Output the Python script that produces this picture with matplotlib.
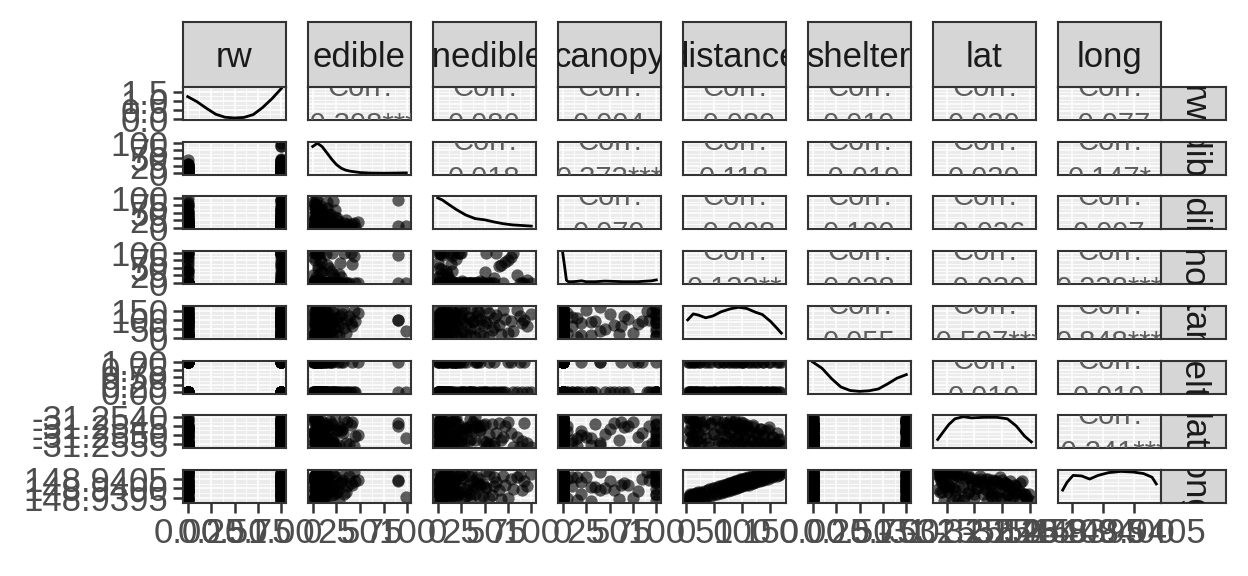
import matplotlib.pyplot as plt

plt.rcParams['font.family'] = ['Liberation Sans', 'DejaVu Sans']

var_names = ["rw", "edible", "inedible", "canopy", "distance", "shelter", "lat", "long"]

# observations (one entry per site)
rw = [1, 0, 1, 1, 0, 1, 0, 1, 1, 0, 1, 0, 1, 0, 1, 1, 0, 1, 0, 1,
      0, 1, 1, 0, 1, 0, 1, 0, 1, 1, 0, 1, 0, 1, 0, 1, 1, 0, 1, 1,
      0, 1, 0, 1, 0, 1, 1, 0, 1, 0, 1, 0, 1, 0, 1, 0, 1, 0, 1, 0,
      0, 1, 1, 0, 1, 0, 1, 1, 0, 1, 0, 1, 0, 1, 1, 0, 1, 0, 1, 1,
      0, 1, 1, 0, 1, 0, 1, 1, 0, 1, 1, 0, 1, 0, 1, 1, 0, 1, 0, 1,
      1, 0, 1, 0, 1, 0, 1, 1, 0, 1]
edible = [5, 2, 12, 0, 8, 20, 3, 6, 28, 10, 4, 15, 7, 1, 35, 9, 18, 99, 4, 13,
          6, 24, 2, 11, 42, 5, 16, 8, 3, 22, 30, 7, 1, 14, 45, 10, 90, 4, 90, 19,
          9, 6, 26, 3, 12, 38, 8, 2, 17, 5, 48, 14, 7, 21, 0, 11, 32, 6, 3, 9,
          3, 6, 11, 0, 4, 9, 25, 2, 14, 7, 19, 5, 1, 33, 8, 12, 3, 27, 10, 6,
          16, 2, 40, 4, 9, 22, 13, 5, 0, 36, 8, 18, 3, 7, 24, 11, 2, 29, 15, 6,
          4, 31, 10, 1, 20, 9, 44, 3, 13, 5]
inedible = [3, 15, 0, 40, 8, 22, 55, 2, 10, 30, 0, 68, 12, 5, 25, 45, 1, 6, 80, 18,
            4, 35, 60, 9, 14, 0, 48, 20, 7, 90, 11, 38, 3, 27, 2, 50, 6, 16, 92, 5,
            72, 0, 33, 13, 42, 8, 62, 24, 1, 100, 19, 4, 44, 10, 85, 28, 6, 52, 36, 15,
            20, 2, 48, 6, 0, 35, 12, 75, 4, 28, 9, 58, 1, 16, 40, 7, 95, 22, 3, 65,
            11, 30, 0, 52, 18, 5, 38, 8, 78, 14, 2, 45, 25, 10, 60, 6, 33, 0, 88, 19,
            12, 3, 55, 26, 7, 42, 15, 70, 1, 24]
canopy = [0, 0, 15, 0, 0, 100, 0, 0, 30, 0, 0, 60, 0, 0, 0, 5, 0, 0, 100, 0,
          45, 0, 0, 0, 62, 0, 0, 80, 0, 0, 20, 0, 100, 0, 0, 35, 92, 0, 0, 0,
          70, 0, 0, 10, 0, 0, 100, 0, 50, 0, 0, 95, 0, 0, 25, 0, 0, 100, 0, 40,
          0, 100, 0, 0, 20, 0, 0, 75, 0, 0, 40, 0, 0, 100, 0, 0, 10, 0, 0, 55,
          0, 0, 100, 0, 0, 30, 0, 0, 85, 0, 0, 0, 100, 0, 15, 0, 0, 65, 0, 0,
          100, 0, 0, 5, 0, 0, 90, 0, 0, 100]
distance = [2.4, 4, 5, 6, 8, 9, 11, 12, 14, 15, 17, 19, 21, 23, 26, 29, 33, 36, 40, 45,
            50, 54, 58, 62, 65, 68, 72, 75, 78, 80, 83, 86, 88, 91, 93, 95, 98, 100, 101, 104,
            107, 110, 113, 116, 119, 122, 125, 128, 131, 135, 138, 142, 146, 150, 154, 158, 162, 165, 168, 170,
            3, 7, 10, 13, 16, 18, 20, 24, 27, 31, 38, 43, 48, 52, 56, 60, 64, 67, 70, 73,
            76, 79, 82, 85, 87, 89, 92, 94, 96, 97, 99, 102, 105, 108, 111, 114, 117, 120, 124, 127,
            130, 133, 137, 140, 144, 148, 152, 156, 160, 166]
shelter = [0, 1, 0, 0, 1, 0, 0, 1, 0, 0, 1, 0, 0, 1, 0, 0, 1, 0, 0, 1,
           0, 0, 1, 0, 1, 0, 0, 1, 0, 0, 1, 0, 0, 1, 0, 0, 0, 1, 1, 0,
           0, 1, 0, 0, 1, 0, 0, 1, 0, 0, 1, 0, 0, 1, 0, 0, 1, 0, 0, 1,
           1, 0, 0, 1, 0, 0, 0, 1, 0, 0, 1, 0, 0, 0, 1, 0, 0, 1, 0, 0,
           0, 1, 0, 0, 1, 0, 0, 0, 1, 0, 0, 1, 0, 0, 0, 1, 0, 0, 1, 0,
           0, 0, 1, 0, 0, 1, 0, 0, 0, 1]
lat = [-31.25398, -31.25470, -31.25520, -31.25402, -31.25540, -31.25440, -31.25500, -31.25415, -31.25555, -31.25462,
       -31.25425, -31.25530, -31.25485, -31.25408, -31.25548, -31.25452, -31.25420, -31.25518, -31.25565, -31.25432,
       -31.25495, -31.25412, -31.25545, -31.25468, -31.25428, -31.25558, -31.25442, -31.25510, -31.25418, -31.25535,
       -31.25478, -31.25430, -31.25560, -31.25455, -31.25505, -31.25438, -31.25450, -31.25552, -31.25436, -31.25515,
       -31.25448, -31.25562, -31.25472, -31.25528, -31.25445, -31.25550, -31.25488, -31.25540, -31.25465, -31.25566,
       -31.25498, -31.25548, -31.25475, -31.25556, -31.25512, -31.25544, -31.25490, -31.25564, -31.25525, -31.25558,
       -31.25405, -31.25478, -31.25535, -31.25420, -31.25500, -31.25450, -31.25562, -31.25430, -31.25512, -31.25468,
       -31.25548, -31.25440, -31.25495, -31.25410, -31.25528, -31.25458, -31.25545, -31.25475, -31.25505, -31.25436,
       -31.25558, -31.25482, -31.25446, -31.25538, -31.25415, -31.25520, -31.25462, -31.25552, -31.25490, -31.25428,
       -31.25540, -31.25472, -31.25508, -31.25444, -31.25560, -31.25484, -31.25532, -31.25456, -31.25566, -31.25498,
       -31.25522, -31.25466, -31.25550, -31.25480, -31.25538, -31.25455, -31.25562, -31.25510, -31.25545, -31.25530]
lon = [148.93934, 148.93962, 148.93940, 148.93970, 148.93936, 148.93966, 148.93950, 148.93974, 148.93938, 148.93960,
       148.93978, 148.93944, 148.93970, 148.93948, 148.93984, 148.93952, 148.93988, 148.93956, 148.93996, 148.93960,
       148.94004, 148.93970, 148.94010, 148.93976, 148.94018, 148.93982, 148.94022, 148.93988, 148.94028, 148.93994,
       148.94032, 148.93998, 148.94036, 148.94004, 148.94040, 148.94008, 148.94044, 148.94010, 148.94040, 148.94050,
       148.94016, 148.94052, 148.94020, 148.94058, 148.94026, 148.94064, 148.94032, 148.94068, 148.94038, 148.94072,
       148.94044, 148.94078, 148.94050, 148.94082, 148.94058, 148.94085, 148.94066, 148.94087, 148.94072, 148.94086,
       148.93952, 148.93936, 148.93964, 148.93942, 148.93972, 148.93946, 148.93980, 148.93950, 148.93976, 148.93958,
       148.93990, 148.93966, 148.94000, 148.93972, 148.94008, 148.93980, 148.94014, 148.93986, 148.94020, 148.93990,
       148.94026, 148.93996, 148.94030, 148.94000, 148.94036, 148.94006, 148.94040, 148.94010, 148.94046, 148.94012,
       148.94048, 148.94018, 148.94054, 148.94022, 148.94060, 148.94028, 148.94062, 148.94030, 148.94068, 148.94036,
       148.94072, 148.94042, 148.94076, 148.94048, 148.94080, 148.94056, 148.94084, 148.94062, 148.94086, 148.94070]

# density curves on the diagonal
rw_dens_x = [0, 0.1, 0.2, 0.3, 0.4, 0.5, 0.6, 0.7, 0.8, 0.9, 1.0]
rw_dens_y = [1.24, 0.95, 0.58, 0.24, 0.07, 0.03, 0.06, 0.22, 0.62, 1.12, 1.70]
edible_dens_x = [0, 5, 10, 15, 20, 25, 30, 35, 40, 50, 60, 70, 80, 90, 99]
edible_dens_y = [0.89, 1.0, 0.885, 0.68, 0.47, 0.29, 0.17, 0.10, 0.066, 0.022, 0.005, 0.0, 0.0, 0.005, 0.01]
inedible_dens_x = [0, 5, 10, 20, 30, 40, 50, 60, 70, 80, 90, 100]
inedible_dens_y = [1.0, 0.93, 0.82, 0.61, 0.43, 0.31, 0.27, 0.20, 0.14, 0.10, 0.08, 0.06]
canopy_dens_x = [0, 2, 4, 6, 10, 15, 20, 25, 35, 45, 55, 65, 80, 90, 95, 100]
canopy_dens_y = [1.0, 0.55, 0.08, 0.03, 0.03, 0.04, 0.06, 0.03, 0.03, 0.05, 0.04, 0.03, 0.03, 0.05, 0.06, 0.09]
distance_dens_x = [2.4, 12.4, 21.7, 34.6, 47.5, 62.2, 78.8, 93.6, 108.3, 123.1, 136, 150.7, 161.8, 170]
distance_dens_y = [0.58, 0.78, 0.74, 0.65, 0.71, 0.85, 0.95, 1.0, 0.96, 0.84, 0.76, 0.53, 0.31, 0.14]
shelter_dens_x = [0, 0.1, 0.2, 0.3, 0.4, 0.5, 0.6, 0.7, 0.8, 0.9, 1.0]
shelter_dens_y = [1.0, 0.79, 0.45, 0.17, 0.05, 0.02, 0.04, 0.10, 0.27, 0.46, 0.58]
lat_dens_x = [-31.25566, -31.25557, -31.25546, -31.25535, -31.25520, -31.25505,
              -31.25483, -31.25460, -31.25441, -31.25425, -31.25410, -31.25398]
lat_dens_y = [0.24, 0.47, 0.74, 0.93, 1.0, 0.96, 0.98, 0.98, 0.93, 0.69, 0.35, 0.16]
long_dens_x = [148.93934, 148.93941, 148.93951, 148.93965, 148.93978, 148.93992,
               148.94009, 148.94029, 148.94049, 148.94066, 148.94080, 148.94087]
long_dens_y = [0.37, 0.62, 0.85, 0.83, 0.73, 0.85, 0.94, 0.98, 0.96, 0.91, 0.79, 0.57]

# correlation labels of the upper triangle, row by row
corr_rows = [
    ["-0.398***", "0.080", "0.004", "-0.089", "0.019", "0.030", "-0.077"],
    ["0.018", "0.373***", "0.118", "-0.019", "0.030", "0.147*"],
    ["0.079", "-0.008", "0.100", "-0.036", "0.097"],
    ["0.133**", "0.038", "-0.030", "0.238***"],
    ["0.055", "-0.597***", "0.848***"],
    ["0.019", "0.019"],
    ["-0.241***"],
]

# axis breaks
var_ticks = [
    [0, 0.25, 0.5, 0.75, 1.0],
    [0, 25, 50, 75, 100],
    [0, 25, 50, 75, 100],
    [0, 25, 50, 75, 100],
    [0, 50, 100, 150],
    [0, 0.25, 0.5, 0.75, 1.0],
    [-31.2555, -31.2550, -31.2545, -31.2540],
    [148.9395, 148.9400, 148.9405],
]
var_ticklabels = [
    ["0.00", "0.25", "0.50", "0.75", "1.00"],
    ["0", "25", "50", "75", "100"],
    ["0", "25", "50", "75", "100"],
    ["0", "25", "50", "75", "100"],
    ["0", "50", "100", "150"],
    ["0.00", "0.25", "0.50", "0.75", "1.00"],
    ["-31.2555", "-31.2550", "-31.2545", "-31.2540"],
    ["148.9395", "148.9400", "148.9405"],
]
rw_dens_ticks = [0, 0.5, 1.0, 1.5]
rw_dens_ticklabels = ["0.0", "0.5", "1.0", "1.5"]
rel_dens_ticks = [0, 0.25, 0.5, 0.75, 1.0]

columns = [rw, edible, inedible, canopy, distance, shelter, lat, lon]
densities = [(rw_dens_x, rw_dens_y), (edible_dens_x, edible_dens_y),
             (inedible_dens_x, inedible_dens_y), (canopy_dens_x, canopy_dens_y),
             (distance_dens_x, distance_dens_y), (shelter_dens_x, shelter_dens_y),
             (lat_dens_x, lat_dens_y), (long_dens_x, long_dens_y)]

W, H = 1248, 576
COL_LEFT, COL_W, COL_STEP = 183, 103, 125
ROW_TOP, ROW_H, ROW_STEP = 87, 33, 54.7
STRIP = 65
EDGE = '#333333'
FS = 25


def box(x, y, w, h):
    return [x / W, 1 - (y + h) / H, w / W, h / H]


def limits(vals):
    lo, hi = min(vals), max(vals)
    pad = 0.05 * (hi - lo)
    return lo - pad, hi + pad


def minor_breaks(major, lim):
    half = (major[1] - major[0]) / 2
    cands = [major[0] - half] + [m + half for m in major]
    return [c for c in cands if lim[0] <= c <= lim[1]]


def style_panel(ax):
    ax.set_facecolor('#EBEBEB')
    ax.set_axisbelow(True)
    ax.grid(True, which='major', color='white', lw=1.1)
    ax.grid(True, which='minor', color='white', lw=0.55)
    for s in ax.spines.values():
        s.set_color(EDGE)
        s.set_linewidth(1.5)
    ax.tick_params(which='minor', length=0)
    ax.tick_params(which='major', length=7.5, width=1.8, color=EDGE,
                   labelsize=FS, labelcolor='#4D4D4D', pad=3)


fig = plt.figure(figsize=(W / 100, H / 100), dpi=100)
n = len(var_names)

for i in range(n):
    for j in range(n):
        ax = fig.add_axes(box(COL_LEFT + j * COL_STEP, ROW_TOP + i * ROW_STEP, COL_W, ROW_H))
        style_panel(ax)
        xlim = limits(columns[j])
        ax.set_xlim(xlim)
        ax.set_xticks(var_ticks[j])
        ax.set_xticks(minor_breaks(var_ticks[j], xlim), minor=True)

        if i == j:
            dx, dy = densities[i]
            top = max(dy)
            ylim = (-0.05 * top, 1.05 * top)
            yt = rw_dens_ticks if i == 0 else rel_dens_ticks
            ax.plot(dx, dy, color='black', lw=2.0)
        else:
            ylim = limits(columns[i])
            yt = var_ticks[i]
        ax.set_ylim(ylim)
        ax.set_yticks(yt)
        ax.set_yticks(minor_breaks(yt, ylim), minor=True)

        if i > j:
            ax.scatter(columns[j], columns[i], s=78, color='black', alpha=0.62, linewidths=0)
        elif i < j:
            ax.text(0.5, 0.74, "Corr:", transform=ax.transAxes, ha='center', va='baseline',
                    fontsize=21, color='#5E5E5E', clip_on=True)
            ax.text(0.5, -0.38, corr_rows[i][j - i - 1], transform=ax.transAxes,
                    ha='center', va='baseline', fontsize=21, color='#5E5E5E', clip_on=True)

        if j == 0:
            if i == 0:
                ax.set_yticklabels(rw_dens_ticklabels)
            else:
                ax.set_yticklabels(var_ticklabels[i])
        else:
            ax.tick_params(axis='y', which='both', left=False, labelleft=False)
        if i == n - 1:
            ax.set_xticklabels(var_ticklabels[j])
        else:
            ax.tick_params(axis='x', which='both', bottom=False, labelbottom=False)

# strips along the top
for j, name in enumerate(var_names):
    sax = fig.add_axes(box(COL_LEFT + j * COL_STEP, ROW_TOP - STRIP, COL_W, STRIP))
    sax.set_facecolor('#D6D6D6')
    sax.set_xticks([])
    sax.set_yticks([])
    for s in sax.spines.values():
        s.set_color(EDGE)
        s.set_linewidth(1.5)
    sax.text(0.5, 0.31, name, transform=sax.transAxes, ha='center', va='baseline',
             fontsize=FS, color='#1A1A1A', clip_on=True)

# strips on the right
for i, name in enumerate(var_names):
    sax = fig.add_axes(box(COL_LEFT + (n - 1) * COL_STEP + COL_W, ROW_TOP + i * ROW_STEP, STRIP, ROW_H))
    sax.set_facecolor('#D6D6D6')
    sax.set_xticks([])
    sax.set_yticks([])
    for s in sax.spines.values():
        s.set_color(EDGE)
        s.set_linewidth(1.5)
    sax.text(0.5, 0.5, name, transform=sax.transAxes, ha='center', va='center',
             rotation=-90, fontsize=FS, color='#1A1A1A', clip_on=True)

fig.savefig("out.png", dpi=100, facecolor='white')
